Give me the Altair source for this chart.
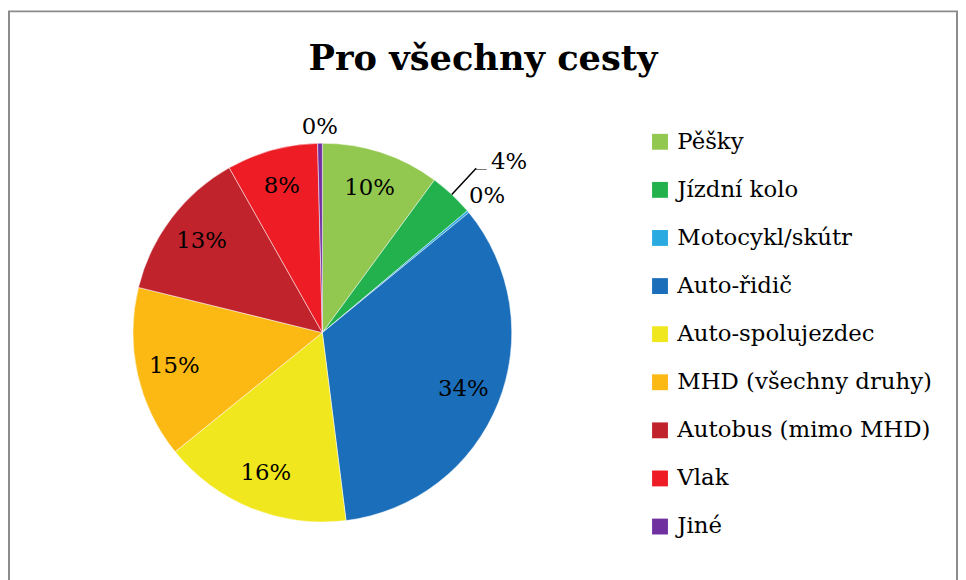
import altair as alt
import pandas as pd

categories = ["Pěšky", "Jízdní kolo", "Motocykl/skútr", "Auto-řidič", "Auto-spolujezdec",
              "MHD (všechny druhy)", "Autobus (mimo MHD)", "Vlak", "Jiné"]
values = [10.1, 3.8, 0.2, 34.0, 16.2, 14.7, 13.0, 7.8, 0.4]
colors = ["#92C84F", "#23B14D", "#29ABE2", "#1B6EBA", "#F1E71E",
          "#FDB913", "#C0232B", "#EE1D25", "#7030A0"]
title_text = "Pro všechny cesty"
inside = ["Pěšky", "Auto-řidič", "Auto-spolujezdec", "MHD (všechny druhy)", "Autobus (mimo MHD)", "Vlak"]

total = sum(values)
df = pd.DataFrame({"category": categories, "value": values, "order": list(range(len(values)))})

FONT = "DejaVu Serif"
CX, CY = 317, 325
theta_scale = alt.Scale(domain=[0, total])

base = alt.Chart(df).transform_window(
    cum="sum(value)", sort=[alt.SortField("order")]
).transform_calculate(
    mid="datum.cum - datum.value / 2",
    label="format(datum.value / 100, '.0%')"
)

pie = alt.Chart(df).mark_arc(outerRadius=191, stroke="white", strokeWidth=0.5).encode(
    theta=alt.Theta("value:Q", stack=True, scale=theta_scale),
    color=alt.Color("category:N",
                    scale=alt.Scale(domain=categories, range=colors),
                    sort=categories,
                    legend=alt.Legend(title=None, orient="none", legendX=646, legendY=121,
                                      symbolType="square", symbolSize=256, symbolStrokeWidth=0,
                                      labelFont=FONT, labelFontSize=23, labelColor="black",
                                      labelOffset=6, rowPadding=24.5, labelLimit=400)),
    order=alt.Order("order:Q"),
    x=alt.value(CX), y=alt.value(CY),
)

def text_layer(filt, radius, **kw):
    return base.transform_filter(filt).mark_text(
        radius=radius, font=FONT, fontSize=23, color="black", **kw
    ).encode(
        theta=alt.Theta("mid:Q", stack=False, scale=theta_scale),
        text="label:N",
        x=alt.value(CX), y=alt.value(CY),
    )

in_labels = text_layer(alt.FieldOneOfPredicate(field="category", oneOf=inside), 153)
moto_label = text_layer(alt.FieldEqualPredicate(field="category", equal="Motocykl/skútr"), 216)
jine_label = text_layer(alt.FieldEqualPredicate(field="category", equal="Jiné"), 207)
kolo_label = text_layer(alt.FieldEqualPredicate(field="category", equal="Jízdní kolo"), 227,
                        align="left", baseline="middle", dx=15, dy=-6)

leader = base.transform_filter(alt.FieldEqualPredicate(field="category", equal="Jízdní kolo")).mark_arc(
    radius=191, radius2=227, stroke="black", strokeWidth=1.5, fill="black"
).encode(
    theta=alt.Theta("mid:Q", stack=False, scale=theta_scale),
    theta2="mid:Q",
    x=alt.value(CX), y=alt.value(CY),
)
leader_h = base.transform_filter(alt.FieldEqualPredicate(field="category", equal="Jízdní kolo")).mark_text(
    radius=227, text="—", align="left", baseline="middle", font=FONT, fontSize=12, color="black", dx=-1
).encode(
    theta=alt.Theta("mid:Q", stack=False, scale=theta_scale),
    x=alt.value(CX), y=alt.value(CY),
)

deco = pd.DataFrame({"t": [title_text]})
title = alt.Chart(deco).mark_text(font=FONT, fontSize=35.5, fontWeight="bold", color="black",
                                  baseline="alphabetic", align="center").encode(
    text="t:N", x=alt.value(479), y=alt.value(60))
border = alt.Chart(deco).mark_rect(fill="white", fillOpacity=0, stroke="#8c8c8c", strokeWidth=2).encode(
    x=alt.value(1), x2=alt.value(957), y=alt.value(1), y2=alt.value(620))

chart = alt.layer(border, title, pie, leader, leader_h, in_labels, moto_label, jine_label, kolo_label).properties(
    width=958, height=572, padding=0, autosize=alt.AutoSizeParams(type="none")
).configure_view(stroke=None)

chart.save("out.html", embed_options={"renderer": "svg", "actions": False})
